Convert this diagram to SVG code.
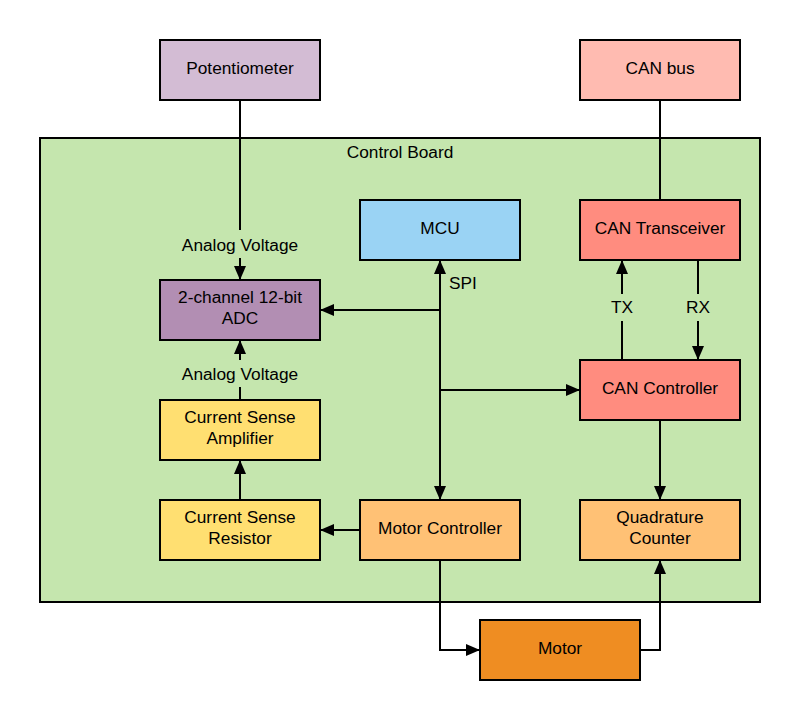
<svg xmlns="http://www.w3.org/2000/svg" width="800" height="720" viewBox="0 0 800 720">
<style>
.box{stroke:#000;stroke-width:2}
.t{font-family:"Liberation Sans",Arial,sans-serif;font-size:17.3px;fill:#000;text-anchor:middle}
.c{fill:none;stroke:#000;stroke-width:2}
</style>
<defs>
<marker id="ah" viewBox="0 0 14 12" refX="14" refY="6" markerWidth="14" markerHeight="12" markerUnits="userSpaceOnUse" orient="auto">
<path d="M0,0 L14,6 L0,12 Z" fill="#000"/>
</marker>
</defs>
<rect width="800" height="720" fill="#fff"/>
<g id="control-board">
<rect class="box" x="40" y="138" width="720" height="464" fill="#C5E6AE"/>
<text class="t" x="400" y="158">Control Board</text>
</g>
<g id="connectors">
<path class="c" d="M240,100 V230"/>
<path class="c" d="M240,258 V280" marker-end="url(#ah)"/>
<path class="c" d="M660,100 V200"/>
<path class="c" d="M440,310 V260" marker-end="url(#ah)"/>
<path class="c" d="M440,310 V500" marker-end="url(#ah)"/>
<path class="c" d="M440,310 H320" marker-end="url(#ah)"/>
<path class="c" d="M440,390 H580" marker-end="url(#ah)"/>
<path class="c" d="M622,360 V321"/>
<path class="c" d="M622,294 V260" marker-end="url(#ah)"/>
<path class="c" d="M698,260 V294"/>
<path class="c" d="M698,321 V360" marker-end="url(#ah)"/>
<path class="c" d="M660,420 V500" marker-end="url(#ah)"/>
<path class="c" d="M360,530 H320" marker-end="url(#ah)"/>
<path class="c" d="M240,500 V460" marker-end="url(#ah)"/>
<path class="c" d="M240,400 V387"/>
<path class="c" d="M240,360 V340" marker-end="url(#ah)"/>
<path class="c" d="M440,560 V650 H480" marker-end="url(#ah)"/>
<path class="c" d="M640,650 H660 V560" marker-end="url(#ah)"/>
<text class="t" x="240" y="251">Analog Voltage</text>
<text class="t" x="240" y="380">Analog Voltage</text>
<text class="t" x="463" y="289">SPI</text>
<text class="t" x="622" y="313">TX</text>
<text class="t" x="698" y="313">RX</text>
</g>
<g id="potentiometer">
<rect class="box" x="160" y="40" width="160" height="60" fill="#D3BCD4"/>
<text class="t" x="240" y="74">Potentiometer</text>
</g>
<g id="can-bus">
<rect class="box" x="580" y="40" width="160" height="60" fill="#FFBBB1"/>
<text class="t" x="660" y="74">CAN bus</text>
</g>
<g id="mcu">
<rect class="box" x="360" y="200" width="160" height="60" fill="#9AD3F4"/>
<text class="t" x="440" y="234">MCU</text>
</g>
<g id="can-transceiver">
<rect class="box" x="580" y="200" width="160" height="60" fill="#FF8C7F"/>
<text class="t" x="660" y="234">CAN Transceiver</text>
</g>
<g id="adc">
<rect class="box" x="160" y="280" width="160" height="60" fill="#B28EB3"/>
<text class="t" x="240" y="303">2-channel 12-bit</text>
<text class="t" x="240" y="324">ADC</text>
</g>
<g id="can-controller">
<rect class="box" x="580" y="360" width="160" height="60" fill="#FF8C7F"/>
<text class="t" x="660" y="394">CAN Controller</text>
</g>
<g id="current-sense-amplifier">
<rect class="box" x="160" y="400" width="160" height="60" fill="#FFDF71"/>
<text class="t" x="240" y="423">Current Sense</text>
<text class="t" x="240" y="444">Amplifier</text>
</g>
<g id="current-sense-resistor">
<rect class="box" x="160" y="500" width="160" height="60" fill="#FFDF71"/>
<text class="t" x="240" y="523">Current Sense</text>
<text class="t" x="240" y="544">Resistor</text>
</g>
<g id="motor-controller">
<rect class="box" x="360" y="500" width="160" height="60" fill="#FFC175"/>
<text class="t" x="440" y="534">Motor Controller</text>
</g>
<g id="quadrature-counter">
<rect class="box" x="580" y="500" width="160" height="60" fill="#FFC175"/>
<text class="t" x="660" y="523">Quadrature</text>
<text class="t" x="660" y="544">Counter</text>
</g>
<g id="motor">
<rect class="box" x="480" y="620" width="160" height="60" fill="#EF8D22"/>
<text class="t" x="560" y="654">Motor</text>
</g>
</svg>
